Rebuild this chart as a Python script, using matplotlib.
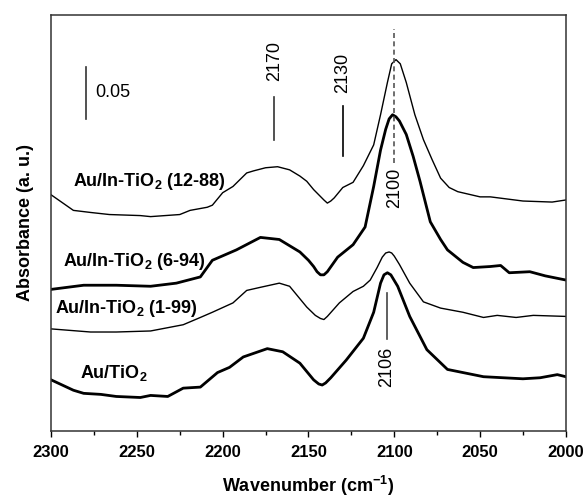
import numpy as np
import matplotlib
matplotlib.use("Agg")
import matplotlib.pyplot as plt

plt.rcParams['font.family'] = ['Liberation Sans', 'DejaVu Sans']
plt.rcParams['mathtext.fontset'] = 'custom'
plt.rcParams['mathtext.rm'] = 'Liberation Sans'
plt.rcParams['mathtext.bf'] = 'Liberation Sans:bold'

# Espectros (numero de onda em cm-1, absorbancia)
wn_12_88 = [2300, 2287, 2277, 2266, 2248, 2242, 2225, 2219, 2209, 2206, 2200, 2194,
            2186, 2182, 2175, 2168, 2161, 2155, 2151, 2147, 2144, 2141, 2139, 2137,
            2135, 2130, 2124, 2118, 2112, 2108, 2104, 2101.5, 2099, 2096.5, 2093, 2088,
            2083, 2078, 2073, 2068, 2063, 2050, 2044, 2025, 2008, 2000]
ab_12_88 = [0.227, 0.212, 0.210, 0.208, 0.207, 0.206, 0.208, 0.212, 0.215, 0.217, 0.229, 0.235,
            0.248, 0.250, 0.253, 0.254, 0.251, 0.245, 0.240, 0.232, 0.227, 0.222, 0.219, 0.221,
            0.224, 0.234, 0.239, 0.255, 0.275, 0.304, 0.335, 0.353, 0.357, 0.353, 0.335, 0.304,
            0.280, 0.261, 0.243, 0.234, 0.230, 0.225, 0.225, 0.221, 0.220, 0.222]

wn_6_94 = [2300, 2281, 2262, 2242, 2227, 2213, 2206, 2192, 2178, 2167, 2155, 2150, 2147,
           2145, 2143, 2141, 2139, 2133, 2124, 2117, 2112, 2108, 2105, 2103, 2101, 2099, 2097,
           2093, 2089, 2085, 2079, 2073, 2069, 2060, 2054, 2044, 2038, 2033, 2021, 2012, 2000]
ab_6_94 = [0.136, 0.140, 0.140, 0.139, 0.142, 0.148, 0.164, 0.174, 0.186, 0.184, 0.172, 0.164, 0.158,
           0.153, 0.150, 0.150, 0.153, 0.167, 0.179, 0.196, 0.235, 0.270, 0.290, 0.300, 0.304, 0.302, 0.298,
           0.285, 0.264, 0.240, 0.201, 0.184, 0.174, 0.162, 0.157, 0.158, 0.159, 0.152, 0.153, 0.149, 0.145]

wn_1_99 = [2300, 2277, 2262, 2242, 2223, 2213, 2206, 2194, 2186, 2178, 2167, 2161,
           2151, 2146, 2143, 2141, 2139, 2132, 2124, 2118, 2114, 2110, 2107, 2105, 2103, 2101.5,
           2100, 2097, 2091, 2083, 2073, 2060, 2048, 2040, 2029, 2019, 2000]
ab_1_99 = [0.098, 0.095, 0.095, 0.096, 0.102, 0.109, 0.114, 0.123, 0.135, 0.138, 0.142, 0.139,
           0.119, 0.111, 0.108, 0.107, 0.110, 0.123, 0.134, 0.139, 0.145, 0.157, 0.167, 0.171, 0.172, 0.171,
           0.168, 0.160, 0.142, 0.124, 0.118, 0.114, 0.109, 0.111, 0.109, 0.111, 0.110]

wn_tio2 = [2300, 2287, 2281, 2271, 2262, 2248, 2242, 2232, 2223, 2213, 2203, 2196,
           2188, 2174, 2165, 2155, 2147, 2144, 2142, 2140, 2137, 2128, 2118, 2112, 2108, 2106,
           2104, 2102, 2098, 2091, 2081, 2069, 2054, 2048, 2025, 2015, 2005, 2000]
ab_tio2 = [0.049, 0.039, 0.036, 0.035, 0.033, 0.032, 0.034, 0.033, 0.041, 0.042, 0.056, 0.061,
           0.071, 0.079, 0.076, 0.065, 0.049, 0.045, 0.044, 0.046, 0.051, 0.068, 0.089, 0.114, 0.142, 0.150,
           0.152, 0.150, 0.139, 0.110, 0.078, 0.059, 0.054, 0.052, 0.050, 0.051, 0.054, 0.052]

nomes = ['Au/In-TiO$_\\mathbf{2}$ (12-88)', 'Au/In-TiO$_\\mathbf{2}$ (6-94)',
         'Au/In-TiO$_\\mathbf{2}$ (1-99)', 'Au/TiO$_\\mathbf{2}$']
larguras = [1.0, 2.0, 1.0, 2.0]

# Bandas marcadas
bandas = [2170, 2130, 2100, 2106]

fig = plt.figure(figsize=(5.87, 4.98), dpi=100)
ax = fig.add_axes([0.087, 0.135, 0.877, 0.835])

series = [(wn_12_88, ab_12_88), (wn_6_94, ab_6_94), (wn_1_99, ab_1_99), (wn_tio2, ab_tio2)]
for (wn, ab), lw in zip(series, larguras):
    ax.plot(wn, ab, color='black', lw=lw, solid_joinstyle='round')

# Rotulos das amostras
pos_rotulos = [(2287, 0.240), (2293, 0.163), (2298, 0.118), (2283, 0.056)]
for nome, (x, y) in zip(nomes, pos_rotulos):
    ax.text(x, y, nome, fontsize=13, fontweight='bold', ha='left', va='center')

# Barra de escala 0.05
ax.plot([2279.5, 2279.5], [0.300, 0.350], color='#333333', lw=1.2)
ax.text(2274, 0.325, '0.05', fontsize=13, ha='left', va='center')

# 2170
ax.plot([bandas[0], bandas[0]], [0.280, 0.321], color='#333333', lw=1.2)
ax.text(bandas[0], 0.3555, str(bandas[0]), fontsize=13, rotation=90, ha='center', va='center')
# 2130
ax.plot([bandas[1], bandas[1]], [0.264, 0.312], color='black', lw=1.2)
ax.text(bandas[1], 0.344, str(bandas[1]), fontsize=13, rotation=90, ha='center', va='center')
# 2100 (tracejado)
ax.plot([bandas[2], bandas[2]], [0.258, 0.386], color='#555555', lw=1.2, ls=(0, (3, 2)))
ax.text(bandas[2], 0.234, str(bandas[2]), fontsize=13, rotation=90, ha='center', va='center')
# 2106
ax.plot([2104.5, 2104.5], [0.088, 0.133], color='#444444', lw=1.2)
ax.text(2104.5, 0.061, str(bandas[3]), fontsize=13, rotation=90, ha='center', va='center')

ax.set_xlim(2300, 2000)
ax.set_ylim(0, 0.40)
ax.set_xticks([2300, 2250, 2200, 2150, 2100, 2050, 2000])
ax.set_xticks([2275, 2225, 2175, 2125, 2075, 2025], minor=True)
ax.set_yticks([])
ax.tick_params(axis='x', which='major', direction='out', length=4, width=1,
               labelsize=12, pad=6)
ax.tick_params(axis='x', which='minor', direction='out', length=3, width=1)
for lab in ax.get_xticklabels():
    lab.set_fontweight('bold')
for s in ax.spines.values():
    s.set_linewidth(1.1)
    s.set_color('#333333')

ax.set_xlabel('Wavenumber (cm$^{\\mathbf{-1}}$)', fontsize=13, fontweight='bold', labelpad=10)
ax.set_ylabel('Absorbance (a. u.)', fontsize=13, fontweight='bold', labelpad=12)

plt.savefig('out.png', dpi=100)
